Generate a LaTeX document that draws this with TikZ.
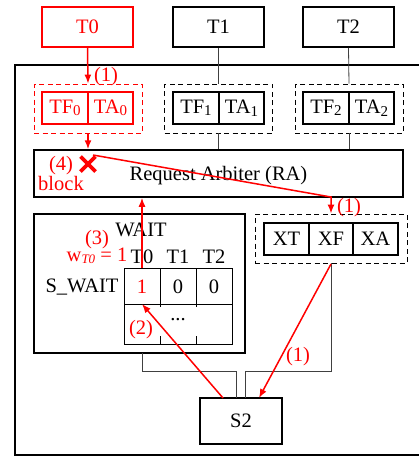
\documentclass[tikz,border=0pt]{standalone}
\usepackage{fontspec}
\setmainfont{Liberation Serif}
\usetikzlibrary{arrows.meta,calc}
\newcommand{\sbs}[1]{\raisebox{-2.5pt}{\fontsize{15}{15}\selectfont #1}}
\begin{document}
\begin{tikzpicture}[x=1pt,y=-1pt,
  font=\fontsize{20.5}{22}\selectfont,
  box/.style={draw, line width=1.5pt, inner sep=0pt, minimum height=32, anchor=center},
  tbox/.style={draw, line width=1.5pt, inner sep=0pt, minimum width=91, minimum height=40},
  grp/.style={draw, line width=0.9pt, dash pattern=on 5pt off 3.5pt, inner sep=0pt, minimum width=108, minimum height=49},
  thin/.style={draw, black!75, line width=0.8pt},
  rarr/.style={draw, red, line width=1.5pt, -{Latex[length=9pt,width=7pt]}},
  rlab/.style={text=red, inner sep=0pt},
  lab/.style={inner sep=0pt}]
\useasboundingbox (0,0) rectangle (419,456);
\fill[white] (0,0) rectangle (419,456);
% outer frame
\draw[line width=2.5pt] (440,65) -- (15,65) -- (15,455) -- (440,455);
% top boxes
\node[tbox, draw=red, text=red] (T0) at (87.5,27) {T0};
\node[tbox] (T1) at (218.5,27) {T1};
\node[tbox] (T2) at (348.5,27) {T2};
% TF/TA groups
\node[grp, draw=red] (G0) at (88,108.5) {};
\node[box, draw=red, text=red, minimum width=46] (TF0) at (65,108) {TF\sbs{0}};
\node[box, draw=red, text=red, minimum width=45] (TA0) at (110.5,108) {TA\sbs{0}};
\node[grp] (G1) at (218.5,108.5) {};
\node[box, minimum width=46] (TF1) at (196,108) {TF\sbs{1}};
\node[box, minimum width=45] (TA1) at (241.5,108) {TA\sbs{1}};
\node[grp] (G2) at (349,108.5) {};
\node[box, minimum width=46] (TF2) at (326,108) {TF\sbs{2}};
\node[box, minimum width=45] (TA2) at (371.5,108) {TA\sbs{2}};
% RA
\node[box, minimum width=369, minimum height=47] (RA) at (218.5,173.5) {};
\node[lab] (RAt) at (218.5,176) {Request Arbiter (RA)};
% X group
\node[grp, minimum width=152] (XG) at (331,238.5) {};
\node[box, minimum width=45] (XT) at (286.5,239) {XT};
\node[box, minimum width=44] (XF) at (331,239) {XF};
\node[box, minimum width=45] (XA) at (375.5,239) {XA};
% WAIT
\node[box, minimum width=211, minimum height=139] (WAIT) at (139.5,283.5) {};
\node[lab] (WAITt) at (141,230) {WAIT};
\node[lab] (h0) at (142,257) {T0};
\node[lab] (h1) at (178,257) {T1};
\node[lab] (h2) at (214,257) {T2};
\node[lab] (SW) at (82,287) {S\_WAIT};
\draw[line width=0.9pt] (124,268) rectangle (232,344);
\draw[line width=0.9pt] (124,304) -- (232,304);
\draw[line width=0.9pt] (160,268) -- (160,307) (160,336) -- (160,344);
\draw[line width=0.9pt] (196,268) -- (196,307) (196,336) -- (196,344);
\node[rlab] (c0) at (142,287) {1};
\node[lab] (c1) at (178,287) {0};
\node[lab] (c2) at (214,287) {0};
\node[lab] (dots) at (178,320) {...};
\node[rlab] (l2) at (141,330) {(2)};
% S2
\node[tbox, minimum width=82, minimum height=46] (S2) at (241,421) {S2};
% thin connectors
\draw[thin] (T1.south) -- (G1.north);
\draw[thin] (T2.south) -- (G2.north);
\draw[thin] (G1.south) -- (G1.south |- RA.north);
\draw[thin] (G2.south) -- (G2.south |- RA.north);
\coordinate (wb) at (142,353);
\coordinate (s2a) at (236,398);
\coordinate (s2b) at (245,398);
\draw[thin] (wb) -- (142,371) -- (236,371) -- (s2a);
\draw[thin] (XG.south) -- (331,371) -- (245,371) -- (s2b);
% red arrows
\draw[rarr] (T0.south) -- (G0.north);
\node[rlab] (l1a) at (106,77) {(1)};
\draw[rarr] (G0.south) -- (G0.south |- RA.north);
% X mark
\coordinate (X) at (88,164);
\draw[red, line width=3.8pt] ($(X)+(-7.5,-7.5)$) -- ($(X)+(7.5,7.5)$) ($(X)+(-7.5,7.5)$) -- ($(X)+(7.5,-7.5)$);
\node[rlab] (l4) at (61,166) {(4)};
\node[rlab] (blk) at (61,183) {block};
\coordinate (xs) at (93,155);
\coordinate (xc) at (331,197);
\draw[rarr] (xs) -- (xc) -- (XG.north);
\node[rlab] (l1b) at (349,208) {(1)};
% XG to S2
\coordinate (xgs) at (331,264);
\coordinate (s2c) at (259,398);
\draw[rarr] (xgs) -- (s2c);
\node[rlab] (l1c) at (298,357) {(1)};
% S2 to table
\coordinate (s2d) at (223,398);
\coordinate (cb) at (142,304);
\draw[rarr] (s2d) -- (cb);
% table to RA
\coordinate (ct) at (142,268);
\draw[rarr] (ct) -- (ct |- RA.south);
\node[rlab] (l3) at (97,240) {(3)};
\node[rlab] (w) at (97,256) {w{\fontsize{13}{13}\selectfont\itshape\raisebox{-2pt}{T0}} = 1};
\end{tikzpicture}
\end{document}
